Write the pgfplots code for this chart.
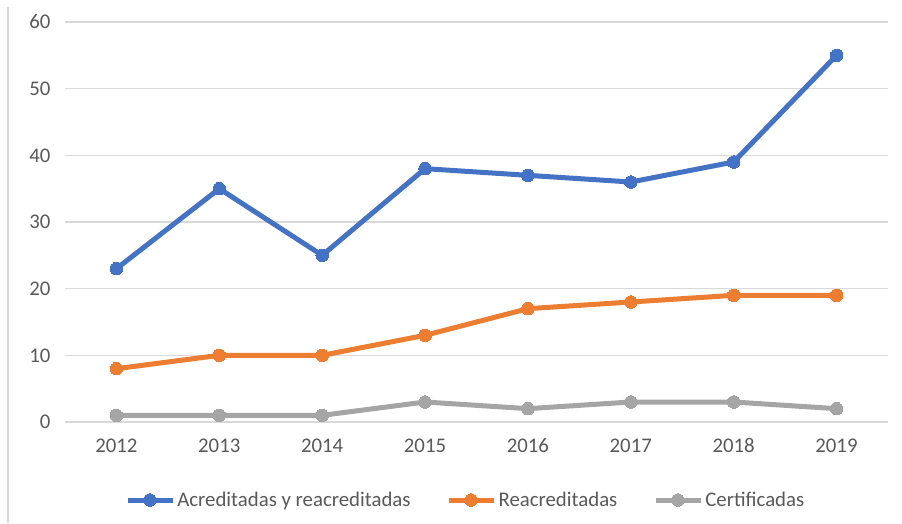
\documentclass[border=0pt]{standalone}
\usepackage{fontspec}
\setmainfont{Carlito}
\usepackage{pgfplots}
\pgfplotsset{compat=1.18}
\definecolor{cblue}{HTML}{4472C4}
\definecolor{corange}{HTML}{ED7D31}
\definecolor{cgray}{HTML}{A5A5A5}
\definecolor{tgray}{HTML}{595959}
\definecolor{ggray}{HTML}{D9D9D9}
\begin{document}
\begin{tikzpicture}
\begin{axis}[
  at={(0,0)}, anchor=origin,
  scale only axis, width=823bp, height=400bp,
  xmin=2011.5, xmax=2019.5, ymin=0, ymax=60,
  xtick={2012,...,2019}, ytick={0,10,...,60},
  xticklabel style={/pgf/number format/1000 sep={}},
  /pgf/number format/assume math mode=true,
  tick label style={font=\fontsize{20.8bp}{24bp}\selectfont, text=tgray},
  major tick length=0pt,
  xticklabel shift=13bp, yticklabel shift=11bp,
  axis line style={draw=none},
  ymajorgrids, grid style={ggray, line width=1.3bp},
  clip=false,
  legend columns=3,
  legend style={draw=none, fill=none, at={(0.487,-0.195)}, anchor=center,
    font=\fontsize{20.8bp}{24bp}\selectfont, text=tgray,
    /tikz/every even column/.append style={column sep=34bp},
    nodes={inner xsep=2bp}},
  legend image code/.code={
    \draw[mark repeat=2, mark phase=2] plot coordinates {(0bp,0bp)(22bp,0bp)(45bp,0bp)};
  },
  every axis plot/.append style={line width=5bp, mark=*, mark size=6.3bp},
]
\addplot[cblue, mark options={fill=cblue, draw=cblue, line width=0pt}] coordinates {(2012,23)(2013,35)(2014,25)(2015,38)(2016,37)(2017,36)(2018,39)(2019,55)};
\addlegendentry{Acreditadas y reacreditadas}
\addplot[corange, mark options={fill=corange, draw=corange, line width=0pt}] coordinates {(2012,8)(2013,10)(2014,10)(2015,13)(2016,17)(2017,18)(2018,19)(2019,19)};
\addlegendentry{Reacreditadas}
\addplot[cgray, mark options={fill=cgray, draw=cgray, line width=0pt}] coordinates {(2012,1)(2013,1)(2014,1)(2015,3)(2016,2)(2017,3)(2018,3)(2019,2)};
\addlegendentry{Certificadas}
\end{axis}
\path (-65bp,-101bp) rectangle (837bp,422bp);
\draw[ggray, line width=2bp] (-57bp,415bp) -- (-57bp,-101bp);
\end{tikzpicture}
\end{document}
